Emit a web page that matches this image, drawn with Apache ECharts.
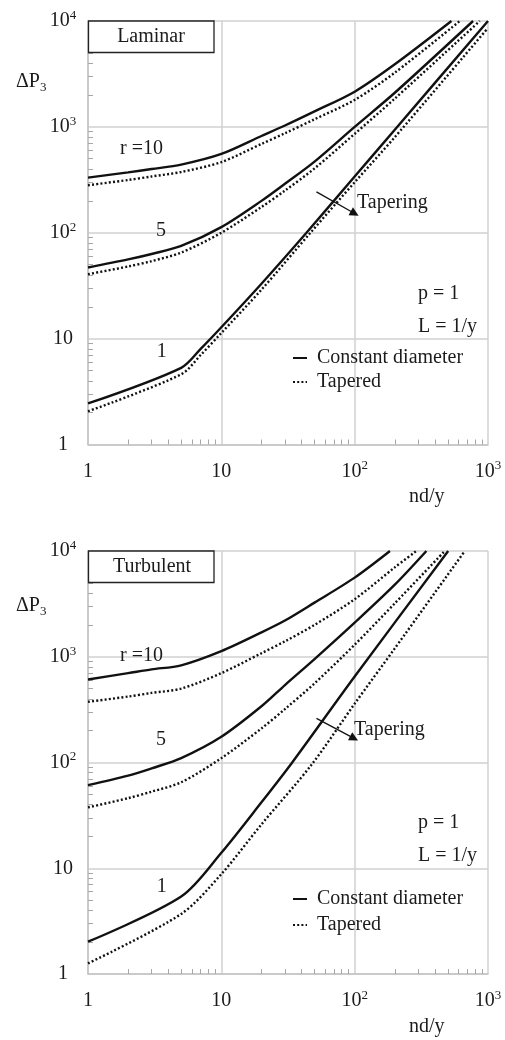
<!DOCTYPE html>
<html>
<head>
<meta charset="utf-8">
<script src="https://cdn.jsdelivr.net/npm/echarts@6/dist/echarts.min.js"></script>
<style>
html,body{margin:0;padding:0;background:#fff}
#main{width:505px;height:1040px}
</style>
</head>
<body>
<div id="main"></div>
<script>
/* global echarts */

// laminar panel, [nd/y, dP3]
var lamR10Const = [[1,332],[2,372],[3,400],[5,440],[10,555],[20,820],[30,1030],[50,1400],[100,2150],[200,3900],[532,10000]]
var lamR10Tap = [[1,281],[2,315],[3,340],[5,375],[10,465],[20,690],[30,870],[50,1180],[100,1800],[200,3250],[615,10000]]
var lamR5Const = [[1,47],[2,56],[3,63],[5,75],[10,113],[20,200],[30,290],[50,470],[100,1000],[200,2100],[773,10000]]
var lamR5Tap = [[1,40.6],[2,48],[3,54],[5,65],[10,100],[20,175],[30,250],[50,405],[100,860],[200,1850],[868,10000]]
var lamR1Const = [[1,2.44],[5,5.3],[7,8],[10,12.8],[20,33],[43.5,100],[100,340],[200,940],[1000,10000]]
var lamR1Tap = [[1,2.06],[5,4.6],[7,7],[10,11.3],[20,29],[46.6,100],[100,300],[200,800],[1000,8600]]

// turbulent panel
var turR10Const = [[1,610],[2,700],[3,760],[5,830],[10,1130],[20,1700],[30,2200],[50,3250],[100,5600],[184,10000]]
var turR10Tap = [[1,375],[2,420],[3,455],[5,500],[10,700],[20,1080],[30,1400],[50,2000],[100,3500],[200,7000],[290,10000]]
var turR5Const = [[1,61],[2,75],[3,88],[5,110],[10,175],[20,340],[30,540],[50,950],[100,2100],[200,4800],[345,10000]]
var turR5Tap = [[1,37.6],[2,46],[3,53],[5,65],[10,110],[20,210],[30,320],[50,560],[100,1300],[200,3200],[474,10000]]
var turR1Const = [[1,2.02],[5,5.4],[10,14],[20,42],[34,100],[100,650],[503,10000]]
var turR1Tap = [[1,1.26],[5,3.7],[10,8.8],[20,26],[47.4,95],[100,360],[200,1200],[670,10000]]

var minorX = [2,3,4,5,6,7,8,9,20,30,40,50,60,70,80,90,200,300,400,500,600,700,800,900]
var minorY = minorX.concat([2000,3000,4000,5000,6000,7000,8000,9000])
var legendNames = ['Constant diameter', 'Tapered']

var FONT = 'Liberation Serif', INK = '#1b1b1b', GRID = '#d0d0d0'

var chart = echarts.init(document.getElementById('main'))

var rich = {
	b: {fontSize: 20, fontFamily: FONT, color: INK, lineHeight: 24},
	s: {fontSize: 13, fontFamily: FONT, color: INK, lineHeight: 10, verticalAlign: 'top'}
}
function powLabel(v){
	if(v < 100) return '{b|' + v + '}'
	return '{b|10}{s|' + Math.round(Math.log10(v)) + '}'
}

function mainAxis(gi, max, isY){
	return {
		type: 'log', gridIndex: gi, min: 1, max: max,
		position: isY ? 'left' : 'bottom',
		axisLine: {show: true, onZero: false, lineStyle: {color: '#c4c4c4', width: 1.5}},
		axisTick: {show: false},
		splitLine: {show: true, lineStyle: {color: GRID, width: 1.5}},
		axisLabel: {
			formatter: powLabel, rich: rich, margin: isY ? 25 : 15,
			align: 'center', showMinLabel: true, showMaxLabel: true
		}
	}
}
function minorAxis(gi, max, isY){
	return {
		type: 'log', gridIndex: gi, min: 1, max: max,
		position: isY ? 'left' : 'bottom',
		axisLine: {show: false},
		splitLine: {show: false},
		axisLabel: {show: false},
		axisTick: {show: true, inside: true, length: 5, customValues: isY ? minorY : minorX,
			lineStyle: {color: '#a8a8a8', width: 1}}
	}
}

function line(name, data, gi, dotted){
	return {
		type: 'line', name: name, data: data, xAxisIndex: gi, yAxisIndex: gi,
		symbol: 'none', smooth: 0.3, silent: true, z: 5,
		itemStyle: {color: 'rgba(0,0,0,0)', borderWidth: 0},
		lineStyle: {color: '#111', width: 2.4, type: dotted ? [2, 2.2] : 'solid', cap: 'butt'}
	}
}
function arrow(from, to){
	return {
		silent: true, symbol: ['none', 'triangle'], symbolSize: 9,
		label: {show: false},
		lineStyle: {color: '#111', width: 1.3, type: 'solid'},
		data: [[{coord: from}, {coord: to}]]
	}
}

var series = [
	line(legendNames[0], lamR10Const, 0), line(legendNames[1], lamR10Tap, 0, true),
	line(legendNames[0], lamR5Const, 0), line(legendNames[1], lamR5Tap, 0, true),
	line(legendNames[0], lamR1Const, 0), line(legendNames[1], lamR1Tap, 0, true),
	line(legendNames[0], turR10Const, 1), line(legendNames[1], turR10Tap, 1, true),
	line(legendNames[0], turR5Const, 1), line(legendNames[1], turR5Tap, 1, true),
	line(legendNames[0], turR1Const, 1), line(legendNames[1], turR1Tap, 1, true)
]
series[4].markLine = arrow([51.7, 243], [100, 152])
series[10].markLine = arrow([51.7, 261], [99, 169])

function txt(x, y, text, align){
	return {type: 'text', x: x, y: y, z: 20, silent: true,
		style: {text: text, font: '20px "' + FONT + '"', fill: INK, align: align || 'left', verticalAlign: 'middle'}}
}
function box(y){
	return {type: 'rect', z: 15, silent: true, shape: {x: 88.5, y: y, width: 125.5, height: 31.5},
		style: {fill: '#fff', stroke: '#222', lineWidth: 1.3}}
}
function dp(y){
	return {type: 'text', x: 16, y: y, z: 20, silent: true,
		style: {text: '\u0394P{s|3}', font: '20px "' + FONT + '"', fill: INK, verticalAlign: 'middle', lineHeight: 24,
			rich: {s: {fontSize: 13, fontFamily: FONT, fill: INK, lineHeight: 12, verticalAlign: 'bottom'}}}}
}

var graphic = [
	box(21), txt(151, 37, 'Laminar', 'center'),
	txt(120, 149, 'r =10'), txt(161, 231, '5', 'center'), txt(161.7, 352, '1', 'center'),
	txt(357, 203, 'Tapering'), txt(418, 294, 'p = 1'), txt(418, 327, 'L = 1/y'),
	txt(409, 497, 'nd/y'), dp(82),
	box(551), txt(152, 567, 'Turbulent', 'center'),
	txt(120, 656, 'r =10'), txt(161, 740, '5', 'center'), txt(161.7, 887, '1', 'center'),
	txt(354, 730, 'Tapering'), txt(418, 823, 'p = 1'), txt(418, 856, 'L = 1/y'),
	txt(409, 1027, 'nd/y'), dp(606)
]

function legend(top, gap){
	return {
		orient: 'vertical', left: 292, top: top, padding: 0, itemGap: gap,
		itemWidth: 14, itemHeight: 14, selectedMode: false,
		data: legendNames, formatter: ' {name}',
		itemStyle: {color: 'rgba(0,0,0,0)', borderWidth: 0},
		textStyle: {fontSize: 20, fontFamily: FONT, color: INK}
	}
}

chart.setOption({
	animation: false,
	backgroundColor: '#fff',
	grid: [
		{left: 88, top: 21, width: 400, height: 423.5},
		{left: 88, top: 551, width: 400, height: 423},
		{left: 88, top: 21, width: 400, height: 423.5},
		{left: 88, top: 551, width: 400, height: 423}
	],
	xAxis: [mainAxis(0, 1000), mainAxis(1, 1000), minorAxis(2, 1000), minorAxis(3, 1000)],
	yAxis: [mainAxis(0, 10000, true), mainAxis(1, 10000, true), minorAxis(2, 10000, true), minorAxis(3, 10000, true)],
	legend: [legend(348, 4), legend(889, 6)],
	series: series,
	graphic: graphic
})
</script>
</body>
</html>
